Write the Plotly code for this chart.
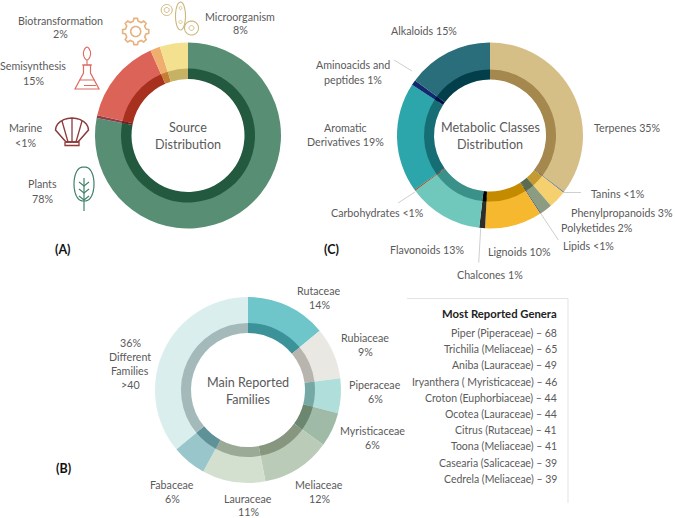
import math
import plotly.graph_objects as go

W, H = 675, 518
FONT = "Lato"
TXT = "#5a5a5a"

# ---- Source distribution (A) : slice sizes as drawn, clockwise from 12 o'clock
source_names = ["Plants", "Marine", "Semisynthesis", "Biotransformation", "Microorganism"]
source_values = [78, 0.5, 14.9, 1.7, 4.9]
source_outer = ["#578E74", "#8A3F48", "#DC6358", "#F0AE6E", "#F3E18F"]
source_inner = ["#22593F", "#6E1E22", "#A8301F", "#C47F35", "#C6B264"]

# ---- Metabolic classes (C)
class_names = ["Terpenes", "Tanins", "Phenylpropanoids", "Polyketides", "Lipids", "Lignoids",
               "Chalcones", "Flavonoids", "Carbohydrates", "Aromatic Derivatives",
               "Aminoacids and peptides", "Alkaloids"]
class_values = [35.3, 0.2, 3.1, 2.1, 0.2, 9.9, 1.0, 13.0, 0.2, 19.1, 0.9, 14.9]
class_outer = ["#D6BF87", "#6F7F8A", "#F6CF6E", "#8C9C80", "#4D5F70", "#F5B82E",
               "#2E2E2A", "#70C8BC", "#9A4A20", "#2CA5AB", "#12296F", "#2A6E7B"]
class_inner = ["#A4884E", "#5A5F50", "#C49B32", "#5B6B4F", "#3D4A50", "#C48A00",
               "#000000", "#3A918A", "#8A3010", "#166D74", "#04104A", "#023F4A"]

# ---- Main reported families (B)
family_names = ["Rutaceae", "Rubiaceae", "Piperaceae", "Myristicaceae", "Meliaceae",
                "Lauraceae", "Fabaceae", "Different Families"]
family_values = [14, 9, 6, 6, 12, 11, 6, 36]
family_outer = ["#6FC6CA", "#EAE8E3", "#B0DFDB", "#9FBBA8", "#BACBB7", "#D3E0D0", "#99C6CA", "#DAEEEE"]
family_inner = ["#3C9299", "#B8B5AE", "#76A9A5", "#6B8770", "#86967F", "#9AAA96", "#5F9298", "#A3B9BA"]

# ---- Table
genera_title = "Most Reported Genera"
genera_rows = ["Piper (Piperaceae) – 68", "Trichilia (Meliaceae) – 65", "Aniba (Lauraceae) – 49",
               "Iryanthera ( Myristicaceae) – 46", "Croton (Euphorbiaceae) – 44",
               "Ocotea (Lauraceae) – 44", "Citrus (Rutaceae) – 41", "Toona (Meliaceae) – 41",
               "Casearia (Salicaceae) – 39", "Cedrela (Meliaceae) – 39"]


def px(x):
    return x / W


def py(y):
    return 1 - y / H


def donut(fig, names, values, colors, cx, cy, r, hole_r):
    fig.add_trace(go.Pie(
        labels=names, values=values, sort=False, direction="clockwise", rotation=0,
        marker=dict(colors=colors, line=dict(width=0)),
        hole=hole_r / r, textinfo="none", showlegend=False, hoverinfo="label+value",
        domain=dict(x=[px(cx - r), px(cx + r)], y=[py(cy + r), py(cy - r)]),
    ))


fig = go.Figure()
donut(fig, source_names, source_values, source_outer, 188, 135.5, 93, 62)
donut(fig, source_names, source_values, source_inner, 188, 135.5, 67, 56.5)
donut(fig, class_names, class_values, class_outer, 490, 135.5, 93, 62)
donut(fig, class_names, class_values, class_inner, 490, 135.5, 66, 56)
donut(fig, family_names, family_values, family_outer, 248, 390, 93, 62)
donut(fig, family_names, family_values, family_inner, 248, 390, 67, 57)

annotations = []
LABEL = 10.7
CENTER = 12.6
PANEL = 12.5


def text(x, y, s, size=LABEL, color=TXT, anchor="center"):
    annotations.append(dict(
        x=px(x), y=py(y), xref="paper", yref="paper", text=s, showarrow=False,
        xanchor=anchor, yanchor="middle", align="center" if anchor == "center" else anchor,
        font=dict(family=FONT, size=size, color=color),
    ))


def two(x, y, a, b, gap=14):
    text(x, y, a)
    text(x, y + gap, b)


# A labels
two(61, 20, "Biotransformation", "2%")
two(33, 66, "Semisynthesis", "15%")
two(25, 128, "Marine", "<1%")
two(42, 184, "Plants", "78%")
two(240, 16, "Microorganism", "8%")
text(188, 128, "Source", CENTER)
text(188, 144, "Distribution", CENTER)
text(63, 249, "<b>(A)</b>", PANEL, "#111111")

# C labels
text(424, 31, "Alkaloids 15%")
two(353, 65, "Aminoacids and", "peptides 1%")
two(345, 127, "Aromatic", "Derivatives 19%")
text(627, 127, "Terpenes 35%")
text(618, 194, "Tanins <1%")
text(622, 212, "Phenylpropanoids 3%")
text(597, 227, "Polyketides 2%")
text(588, 246, "Lipids <1%")
text(519, 251, "Lignoids 10%")
text(427, 250, "Flavonoids 13%")
text(490, 274, "Chalcones 1%")
text(377, 213, "Carbohydrates <1%")
text(490, 128, "Metabolic Classes", CENTER)
text(490, 144, "Distribution", CENTER)
text(331, 249, "<b>(C)</b>", PANEL, "#111111")

# B labels
two(319, 290, "Rutaceae", "14%")
two(365, 337, "Rubiaceae", "9%")
two(375, 384, "Piperaceae", "6%")
two(372, 430, "Myristicaceae", "6%")
two(319, 484, "Meliaceae", "12%")
two(248, 498, "Lauraceae", "11%", 13.5)
two(172, 484, "Fabaceae", "6%")
two(130, 342, "36%", "Different")
two(130, 370, "Families", ">40")
text(248, 382, "Main Reported", CENTER)
text(248, 399, "Families", CENTER)
text(63, 468, "<b>(B)</b>", PANEL, "#111111")

# Table text
text(559, 313, "<b>" + genera_title + "</b>", 11.3, "#222222", "right")
for i, row in enumerate(genera_rows):
    text(559, 333 + i * 16.2, row, 10.5, TXT, "right")

shapes = []


def line(pts, color, width=1.0):
    shapes.append(dict(type="path", xref="paper", yref="paper",
                       path="M" + " L".join(f"{px(x):.5f},{py(y):.5f}" for x, y in pts),
                       line=dict(color=color, width=width), layer="above"))


def closed(pts, color, width=1.0):
    line(list(pts) + [pts[0]], color, width)


def ellipse(cx, cy, rx, ry, color, width=1.0):
    closed([(cx + rx * math.cos(t / 36 * 2 * math.pi), cy + ry * math.sin(t / 36 * 2 * math.pi))
            for t in range(36)], color, width)


# Table rule
line([(407, 298.5), (568, 298.5), (568, 503)], "#E3E3E3", 1)

# Leader lines
LEAD = "#CFCFCF"
line([(412, 71), (394, 60)], LEAD)
line([(563, 192.5), (581, 192.5)], LEAD)
line([(540.7, 213.3), (558.3, 240)], LEAD)
line([(480.7, 228.3), (478.7, 262.7)], LEAD)
line([(415, 192), (398, 203)], LEAD)

# Gear icon
GEAR = "#E6B27E"
gx, gy, teeth = 135.7, 31.5, 8
pts = []
for k in range(teeth):
    a = 2 * math.pi * k / teeth
    d = 2 * math.pi / teeth
    for off, rad in [(-0.30, 10.5), (-0.17, 13.2), (0.17, 13.2), (0.30, 10.5)]:
        pts.append((gx + rad * math.cos(a + off * d), gy + rad * math.sin(a + off * d)))
closed(pts, GEAR, 1.6)
ellipse(gx, gy, 5, 5, GEAR, 1.6)

# Cells icon
CELL = "#CDB67A"
ellipse(166.7, 10, 5.5, 5.5, CELL, 1.0)
ellipse(166.7, 10, 2.5, 2.5, CELL, 1.0)
ellipse(180.5, 16, 5, 14, CELL, 1.1)
ellipse(180.5, 8, 1.3, 1.6, CELL, 0.8)
ellipse(180.5, 22, 1.6, 1.6, CELL, 0.8)
ellipse(191.5, 28, 7, 7, CELL, 1.1)
ellipse(191.5, 28, 2.4, 2.4, CELL, 0.9)

# Flask icon
FLASK = "#DF6B60"
bulb = []
for k in range(24):
    t = 2 * math.pi * k / 24
    bulb.append((87 + 3.6 * math.sin(t) * (1 - 0.25 * math.cos(t) ** 2), 53.5 - 6.5 * math.cos(t)))
closed(bulb, FLASK, 1.1)
line([(87, 60), (87, 65)], FLASK, 1.1)
line([(82, 65), (92, 65)], FLASK, 1.1)
closed([(83.5, 65), (83.5, 73), (75, 89), (99, 89), (90.5, 73), (90.5, 65)], FLASK, 1.2)
line([(79.5, 80), (94.5, 80)], FLASK, 1.0)
line([(84, 85.5), (96, 85.5)], FLASK, 1.0)

# Shell icon
SHELL = "#8C3A3A"
shell = [(66, 142), (55.5, 130)]
for k in range(1, 12):
    t = math.pi * (1 + k / 12)
    shell.append((72 + 16.5 * math.cos(t), 130 + 12 * math.sin(t)))
shell += [(88.5, 130), (78, 142)]
closed(shell, SHELL, 1.5)
line([(68, 142), (62, 121)], SHELL, 1.3)
line([(76, 142), (82, 121)], SHELL, 1.3)
line([(72, 142), (72, 118)], SHELL, 1.3)
closed([(65, 142), (79, 142), (79, 145.5), (65, 145.5)], SHELL, 1.3)

# Leaf icon
LEAF = "#41816A"
leaf = []
for k in range(25):
    t = math.pi * k / 24
    leaf.append((84 + 10 * math.sin(t) ** 0.8, 167 + 34 * (1 - math.cos(t)) / 2))
for k in range(25):
    t = math.pi * k / 24
    leaf.append((84 - 10 * math.sin(t) ** 0.8, 201 - 34 * (1 - math.cos(t)) / 2))
line(leaf, LEAF, 1.2)
line([(84, 178), (84, 211)], LEAF, 1.2)
for y0 in (186, 193, 200):
    line([(79, y0 - 4), (84, y0), (89, y0 - 4)], LEAF, 1.1)

fig.update_layout(
    width=W, height=H, margin=dict(l=0, r=0, t=0, b=0),
    paper_bgcolor="white", plot_bgcolor="white", showlegend=False,
    annotations=annotations, shapes=shapes,
    font=dict(family=FONT, color=TXT),
)
fig.write_html("out.html", config={"displayModeBar": False},
               post_script="document.body.style.margin='0';document.body.style.overflow='hidden';")
